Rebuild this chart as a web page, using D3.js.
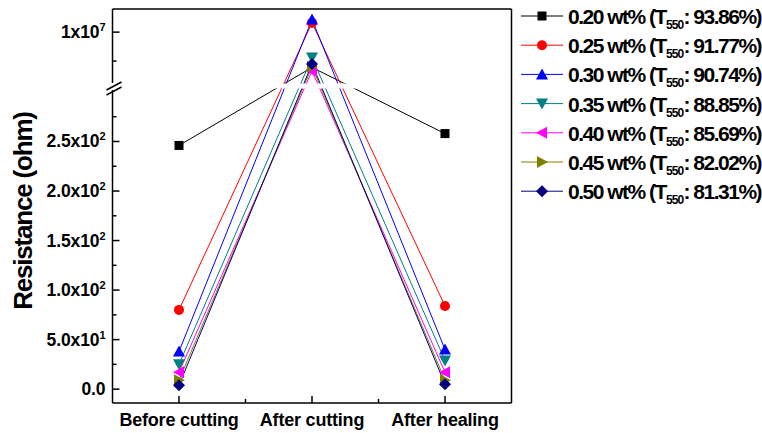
<!DOCTYPE html>
<html>
<head>
<meta charset="utf-8">
<script src="https://cdn.jsdelivr.net/npm/d3@7"></script>
<style>
  body { margin: 0; background: #fff; }
  text { font-family: "Liberation Sans", Arial, sans-serif; font-weight: bold; fill: #000; }
</style>
</head>
<body>
<div id="chart"></div>
<script>
// data
const categories = ["Before cutting", "After cutting", "After healing"];
const loadings = ["0.20", "0.25", "0.30", "0.35", "0.40", "0.45", "0.50"];
const t550 = ["93.86", "91.77", "90.74", "88.85", "85.69", "82.02", "81.31"];
const colors = ["#000000", "#ff0000", "#0000ff", "#008080", "#ff00ff", "#808000", "#000080"];
const symbols = ["square", "circle", "triUp", "triDown", "triLeft", "triRight", "diamond"];
const r020 = [246, 3.9e6, 258];
const r025 = [80, 1.16e7, 84];
const r030 = [38, 1.22e7, 40];
const r035 = [25, 5.6e6, 29];
const r040 = [17, 3.3e6, 17];
const r045 = [9, 4.0e6, 9];
const r050 = [4, 4.5e6, 5];
const seriesValues = [r020, r025, r030, r035, r040, r045, r050];
const lowerTicks = [0, 50, 100, 150, 200, 250];
const lowerMinor = [25, 75, 125, 175, 225, 275];
const upperTicks = [1e7];
const upperMinor = [5e6];

const W = 762, H = 433;
const pLeft = 112.5, pRight = 511.5, pTop = 9, pBottom = 403;
const breakY = 88;   // lower segment top
const breakTop = 83; // upper segment bottom

const svg = d3.select('#chart').append('svg')
  .attr('width', W).attr('height', H);

const x = d3.scaleLinear().domain([0.5, 3.5]).range([pLeft, pRight]);
const yLow = d3.scaleLinear().domain([-14, 304]).range([pBottom, breakY]);
const yUp = d3.scaleLinear().domain([3.4e5, 1.4e7]).range([breakY, pTop]);
const yv = v => v > 304 ? yUp(v) : yLow(v);

// series lines + markers
const g = svg.append('g');
seriesValues.forEach((vals, i) => {
  const line = d3.line().x((d, j) => x(j + 1)).y(d => yv(d));
  g.append('path').attr('d', line(vals))
    .attr('fill', 'none').attr('stroke', colors[i]).attr('stroke-width', 1);
});

function marker(sel, type, cx, cy, color) {
  const s = 5;
  let el;
  if (type === 'square') {
    el = sel.append('rect').attr('x', cx - 4.5).attr('y', cy - 4.5).attr('width', 9).attr('height', 9);
  } else if (type === 'circle') {
    el = sel.append('circle').attr('cx', cx).attr('cy', cy).attr('r', 5);
  } else {
    let pts;
    if (type === 'triUp') pts = [[0, -s - 1], [s + 1, s], [-s - 1, s]];
    if (type === 'triDown') pts = [[0, s + 1], [s + 1, -s], [-s - 1, -s]];
    if (type === 'triLeft') pts = [[-s - 1, 0], [s, -s - 1], [s, s + 1]];
    if (type === 'triRight') pts = [[s + 1, 0], [-s, -s - 1], [-s, s + 1]];
    if (type === 'diamond') pts = [[0, -s - 1], [s + 1, 0], [0, s + 1], [-s - 1, 0]];
    el = sel.append('polygon').attr('points', pts.map(p => [cx + p[0], cy + p[1]].join(',')).join(' '));
  }
  el.attr('fill', color);
}

seriesValues.forEach((vals, i) => {
  vals.forEach((v, j) => marker(g, symbols[i], x(j + 1), yv(v), colors[i]));
});

// break gap across the plot
svg.append('rect').attr('x', pLeft + 1).attr('y', breakTop + 0.5)
  .attr('width', pRight - pLeft - 2).attr('height', breakY - breakTop).attr('fill', '#fff');

// frame
const frame = svg.append('g').attr('stroke', '#000').attr('stroke-width', 1.5).attr('fill', 'none');
frame.append('line').attr('x1', pLeft).attr('x2', pRight).attr('y1', pTop).attr('y2', pTop);
frame.append('line').attr('x1', pRight).attr('x2', pRight).attr('y1', pTop).attr('y2', pBottom);
frame.append('line').attr('x1', pLeft).attr('x2', pRight).attr('y1', pBottom).attr('y2', pBottom);
frame.append('line').attr('x1', pLeft).attr('x2', pLeft).attr('y1', pTop).attr('y2', breakTop);
frame.append('line').attr('x1', pLeft).attr('x2', pLeft).attr('y1', breakY + 2).attr('y2', pBottom);

// break marks
const bm = svg.append('g').attr('stroke', '#000').attr('stroke-width', 1.5);
bm.append('line').attr('x1', pLeft - 6).attr('y1', breakTop + 7).attr('x2', pLeft + 9).attr('y2', breakTop - 1);
bm.append('line').attr('x1', pLeft - 6).attr('y1', breakY + 7).attr('x2', pLeft + 9).attr('y2', breakY - 1);

// y ticks (inward)
const ticks = svg.append('g').attr('stroke', '#000').attr('stroke-width', 1.5);
lowerTicks.forEach(v => ticks.append('line').attr('x1', pLeft).attr('x2', pLeft + 7).attr('y1', yLow(v)).attr('y2', yLow(v)));
lowerMinor.forEach(v => ticks.append('line').attr('x1', pLeft).attr('x2', pLeft + 4).attr('y1', yLow(v)).attr('y2', yLow(v)));
upperTicks.forEach(v => ticks.append('line').attr('x1', pLeft).attr('x2', pLeft + 7).attr('y1', yUp(v)).attr('y2', yUp(v)));
upperMinor.forEach(v => ticks.append('line').attr('x1', pLeft).attr('x2', pLeft + 4).attr('y1', yUp(v)).attr('y2', yUp(v)));
// x ticks (inward)
[1, 2, 3].forEach(v => ticks.append('line').attr('x1', x(v)).attr('x2', x(v)).attr('y1', pBottom).attr('y2', pBottom - 7));
[1.5, 2.5].forEach(v => ticks.append('line').attr('x1', x(v)).attr('x2', x(v)).attr('y1', pBottom).attr('y2', pBottom - 4));

// y tick labels
function sciLabel(v, y) {
  const t = svg.append('text').attr('x', pLeft - 7).attr('y', y + 6)
    .attr('text-anchor', 'end').style('font-size', '17.5px').style('letter-spacing', '-0.1px');
  if (v === 0) { t.text('0.0'); return; }
  const e = Math.floor(Math.log10(v));
  const m = v / Math.pow(10, e);
  const ms = e >= 7 ? d3.format('d')(m) : d3.format('.1f')(m);
  t.append('tspan').text(ms + 'x10');
  t.append('tspan').attr('dy', -7).style('font-size', '11px').text(e);
}
lowerTicks.forEach(v => sciLabel(v, yLow(v)));
upperTicks.forEach(v => sciLabel(v, yUp(v)));

// x tick labels
categories.forEach((c, i) => {
  svg.append('text').attr('x', x(i + 1)).attr('y', 426)
    .attr('text-anchor', 'middle').style('font-size', '18px').style('letter-spacing', '-0.2px').text(c);
});

// y axis title
svg.append('text').attr('transform', 'translate(32,211) rotate(-90)')
  .attr('text-anchor', 'middle').style('font-size', '26px').style('letter-spacing', '-1.2px')
  .text('Resistance (ohm)');

// legend
const lg = svg.append('g');
loadings.forEach((l, i) => {
  const ly = 16 + i * 29.2;
  lg.append('line').attr('x1', 521).attr('x2', 563).attr('y1', ly).attr('y2', ly)
    .attr('stroke', colors[i]).attr('stroke-width', 1);
  marker(lg, symbols[i], 542, ly, colors[i]);
  const t = lg.append('text').attr('x', 568).attr('y', ly + 8)
    .style('font-size', '21px').style('letter-spacing', '-1.5px');
  t.append('tspan').text(`${l} wt% (T`);
  t.append('tspan').attr('dy', 5).style('font-size', '12px').style('letter-spacing', '-0.8px').text('550');
  t.append('tspan').attr('dy', -5).text(`: ${t550[i]}%)`);
});
</script>
</body>
</html>
